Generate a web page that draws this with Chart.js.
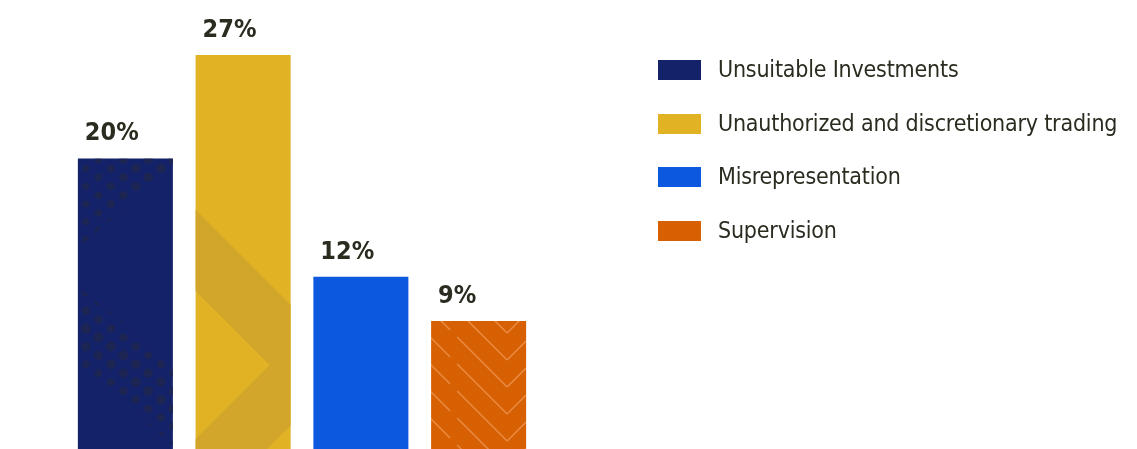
<!DOCTYPE html>
<html>
<head>
<meta charset="utf-8">
<script src="https://cdn.jsdelivr.net/npm/chart.js@4/dist/chart.umd.min.js"></script>
<style>
  html, body { margin: 0; padding: 0; background: #fff; }
  #wrap { position: relative; width: 1137px; height: 449px; overflow: hidden; }
  #chart { position: absolute; left: 0; top: 0; }
  #legend { position: absolute; left: 658px; top: 0; font-family: "DejaVu Sans Condensed", "Liberation Sans Narrow", sans-serif; font-size: 23px; color: #2b2b20; }
  .item { position: absolute; left: 0; white-space: nowrap; }
  .swatch { position: absolute; left: 0; width: 43px; height: 20px; }
  .label { position: absolute; left: 60px; top: -1px; line-height: 20px; letter-spacing: -0.2px; }
</style>
</head>
<body>
<div id="wrap">
  <canvas id="chart" width="1137" height="454"></canvas>
  <div id="legend"></div>
</div>
<script>
// Chart data
const categories = ['Unsuitable Investments', 'Unauthorized and discretionary trading', 'Misrepresentation', 'Supervision'];
const shares = [20, 27, 12, 9];
const valueLabels = ['20%', '27%', '12%', '9%'];
const colors = ['#14226a', '#e0b224', '#0c59e0', '#d76003'];

const FONT = '"DejaVu Sans Condensed", "Liberation Sans Narrow", sans-serif';

// Legend built from the same arrays
const legendEl = document.getElementById('legend');
categories.forEach((name, i) => {
  const top = 60 + i * 53.5;
  const item = document.createElement('div');
  item.className = 'item';
  item.style.top = top + 'px';
  item.innerHTML = '<div class="swatch" style="background:' + colors[i] + '"></div>' +
    '<div class="label">' + name + '</div>';
  legendEl.appendChild(item);
});

// Texture drawn inside each bar (dots, chevron, lines)
const texturePlugin = {
  id: 'texture',
  afterDatasetsDraw(chart) {
    const ctx = chart.ctx;
    const bars = chart.getDatasetMeta(0).data;
    bars.forEach((bar, i) => {
      const left = bar.x - bar.width / 2;
      const right = bar.x + bar.width / 2;
      const top = bar.y;
      const base = bar.base;
      ctx.save();
      ctx.beginPath();
      ctx.rect(left, top, right - left, base - top);
      ctx.clip();
      if (i === 0) drawDots(ctx, left, right, top, base);
      if (i === 1) drawChevron(ctx, left, right, top, base);
      if (i === 3) drawLines(ctx, left, right, top, base);
      ctx.restore();
    });
  }
};

function dotLattice(ctx, left, right, top, base, radiusAt) {
  const colStep = 12.5;
  const rowStep = 17.8;
  for (let c = 0; left + 8 + c * colStep < right + 8; c++) {
    const x = left + 8 + c * colStep;
    const shift = (c % 2) ? -rowStep / 2 : 0;
    for (let y = top + 10 + shift; y < base + 8; y += rowStep) {
      const r = radiusAt(x - left, y - top);
      if (r > 0) {
        ctx.beginPath();
        ctx.arc(x, y, r, 0, Math.PI * 2);
        ctx.fill();
      }
    }
  }
}

function drawDots(ctx, left, right, top, base) {
  const w = right - left;
  ctx.fillStyle = '#1d2553';
  // upper corner band
  ctx.save();
  ctx.beginPath();
  ctx.moveTo(left, top);
  ctx.lineTo(right, top);
  ctx.lineTo(right, top + 6);
  ctx.lineTo(left, top + 90);
  ctx.closePath();
  ctx.clip();
  dotLattice(ctx, left, right, top, base, (dx) => 3.4 + dx * 0.018);
  ctx.restore();
  // lower diagonal band
  ctx.save();
  ctx.beginPath();
  ctx.moveTo(left, top + 128);
  ctx.lineTo(right, top + 128 + w * 0.8);
  ctx.lineTo(right, top + 206 + w * 0.85);
  ctx.lineTo(left, top + 206);
  ctx.closePath();
  ctx.clip();
  dotLattice(ctx, left, right, top, base, (dx, dy) => {
    const u = 128 + dx * 0.8;
    const l = 206 + dx * 0.85;
    const t = (dy - u) / (l - u);
    if (t < -0.2 || t > 1.2) return 0;
    return 3.4 + 1.8 * Math.max(0, 1 - Math.abs(t - 0.5) * 2);
  });
  ctx.restore();
}

function drawChevron(ctx, left, right, top, base) {
  ctx.fillStyle = '#d1a62a';
  const ax = left + 74;
  const ay = base - 89;
  const w = 81.5;
  const reach = 400;
  ctx.beginPath();
  ctx.moveTo(ax - reach, ay - reach);
  ctx.lineTo(ax + w - reach, ay - reach);
  ctx.lineTo(ax + w, ay);
  ctx.lineTo(ax + w - reach, ay + reach);
  ctx.lineTo(ax - reach, ay + reach);
  ctx.lineTo(ax, ay);
  ctx.closePath();
  ctx.fill();
}

function drawLines(ctx, left, right, top, base) {
  ctx.strokeStyle = 'rgba(255, 190, 140, 0.45)';
  ctx.lineWidth = 1.6;
  const apexX = left + 76;
  for (let ay = base - 94 - 27 * 3; ay < base + 60; ay += 27) {
    ctx.beginPath();
    // right arm
    ctx.moveTo(apexX, ay);
    ctx.lineTo(apexX + 60, ay - 60);
    // left arm, with a gap
    ctx.moveTo(apexX, ay);
    ctx.lineTo(left + 26, ay - (apexX - left - 26));
    ctx.moveTo(left + 19, ay - (apexX - left - 19));
    ctx.lineTo(left - 20, ay - (apexX - left + 20));
    ctx.stroke();
  }
}

// Value labels above the bars, left aligned
const valueLabelPlugin = {
  id: 'valueLabels',
  afterDatasetsDraw(chart) {
    const ctx = chart.ctx;
    const bars = chart.getDatasetMeta(0).data;
    ctx.save();
    ctx.font = 'bold 25px ' + FONT;
    ctx.fillStyle = '#2b2b20';
    ctx.textAlign = 'left';
    ctx.textBaseline = 'alphabetic';
    bars.forEach((bar, i) => {
      ctx.fillText(valueLabels[i], bar.x - bar.width / 2 + 7, bar.y - 18);
    });
    ctx.restore();
  }
};

new Chart(document.getElementById('chart'), {
  type: 'bar',
  data: {
    labels: categories,
    datasets: [{
      data: shares,
      backgroundColor: colors,
      borderWidth: 0,
      categoryPercentage: 1,
      barPercentage: 0.807
    }]
  },
  options: {
    responsive: false,
    animation: false,
    layout: { padding: { left: 66.5, right: 599.5, top: 55, bottom: 0 } },
    scales: {
      x: { display: false },
      y: { display: false, min: 0, max: 27 }
    },
    plugins: {
      legend: { display: false },
      tooltip: { enabled: false }
    }
  },
  plugins: [texturePlugin, valueLabelPlugin]
});
</script>
</body>
</html>
